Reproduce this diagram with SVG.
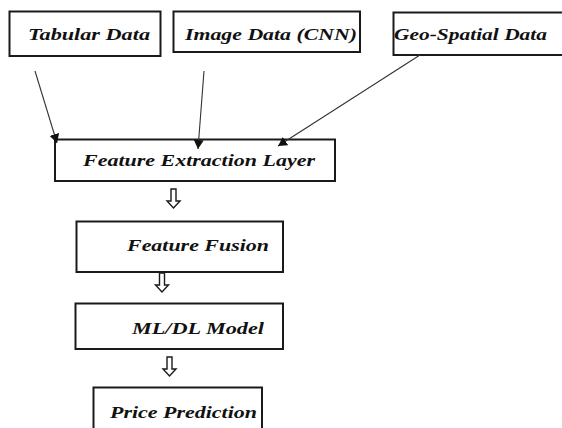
<svg xmlns="http://www.w3.org/2000/svg" xmlns:xlink="http://www.w3.org/1999/xlink" width="562" height="428" viewBox="0 0 562 428">
  <style>
    .box { fill: #ffffff; stroke: #1a1a1a; stroke-width: 2; }
    .lbl { font-family: "Liberation Serif", "Times New Roman", serif; font-weight: bold; font-style: italic; font-size: 17.5px; fill: #111111; }
    .link { stroke: #333333; stroke-width: 1.1; fill: none; }
    .flow { fill: #ffffff; stroke: #1a1a1a; stroke-width: 1.4; }
  </style>
  <defs>
    <marker id="tip" markerUnits="userSpaceOnUse" markerWidth="10" markerHeight="10" refX="9" refY="5" orient="auto">
      <path d="M0,0 L9,5 L0,10 Z" fill="#111111"/>
    </marker>
    <path id="down" d="M-2.5,0 H2.5 V12 H6.5 L0,19 L-6.5,12 H-2.5 Z"/>
  </defs>
  <rect width="562" height="428" fill="#ffffff"/>

  <g id="tabular-data">
    <rect class="box" x="9.5" y="11.5" width="151" height="44.5"/>
    <text class="lbl" x="28" y="40" textLength="122" lengthAdjust="spacingAndGlyphs">Tabular Data</text>
  </g>
  <g id="image-data">
    <rect class="box" x="173.5" y="11.5" width="186.5" height="40.5"/>
    <text class="lbl" x="185" y="40" textLength="172" lengthAdjust="spacingAndGlyphs">Image Data (CNN)</text>
  </g>
  <g id="geo-spatial-data">
    <rect class="box" x="393.5" y="12.5" width="175" height="42.5"/>
    <text class="lbl" x="394" y="40" textLength="153" lengthAdjust="spacingAndGlyphs">Geo-Spatial Data</text>
  </g>
  <g id="feature-extraction">
    <rect class="box" x="55" y="139.5" width="280" height="41.5"/>
    <text class="lbl" x="83" y="166" textLength="232" lengthAdjust="spacingAndGlyphs">Feature Extraction Layer</text>
  </g>
  <g id="feature-fusion">
    <rect class="box" x="76.5" y="221.5" width="206.5" height="50.5"/>
    <text class="lbl" x="127" y="251" textLength="142" lengthAdjust="spacingAndGlyphs">Feature Fusion</text>
  </g>
  <g id="ml-dl-model">
    <rect class="box" x="75.5" y="303.5" width="207.5" height="45.5"/>
    <text class="lbl" x="132" y="334" textLength="132" lengthAdjust="spacingAndGlyphs">ML/DL Model</text>
  </g>
  <g id="price-prediction">
    <rect class="box" x="93.5" y="387.5" width="168.5" height="45"/>
    <text class="lbl" x="110" y="418" textLength="147" lengthAdjust="spacingAndGlyphs">Price Prediction</text>
  </g>

  <!-- drawn last so the arrow tips sit on top of the box borders -->
  <g id="connectors">
    <line class="link" x1="35" y1="71" x2="57" y2="143" marker-end="url(#tip)"/>
    <line class="link" x1="204" y1="71" x2="198" y2="149" marker-end="url(#tip)"/>
    <line class="link" x1="420" y1="55" x2="278" y2="146" marker-end="url(#tip)"/>
    <use xlink:href="#down" class="flow" transform="translate(173.5,189)"/>
    <use xlink:href="#down" class="flow" transform="translate(162,273)"/>
    <use xlink:href="#down" class="flow" transform="translate(169.5,357)"/>
  </g>
</svg>
